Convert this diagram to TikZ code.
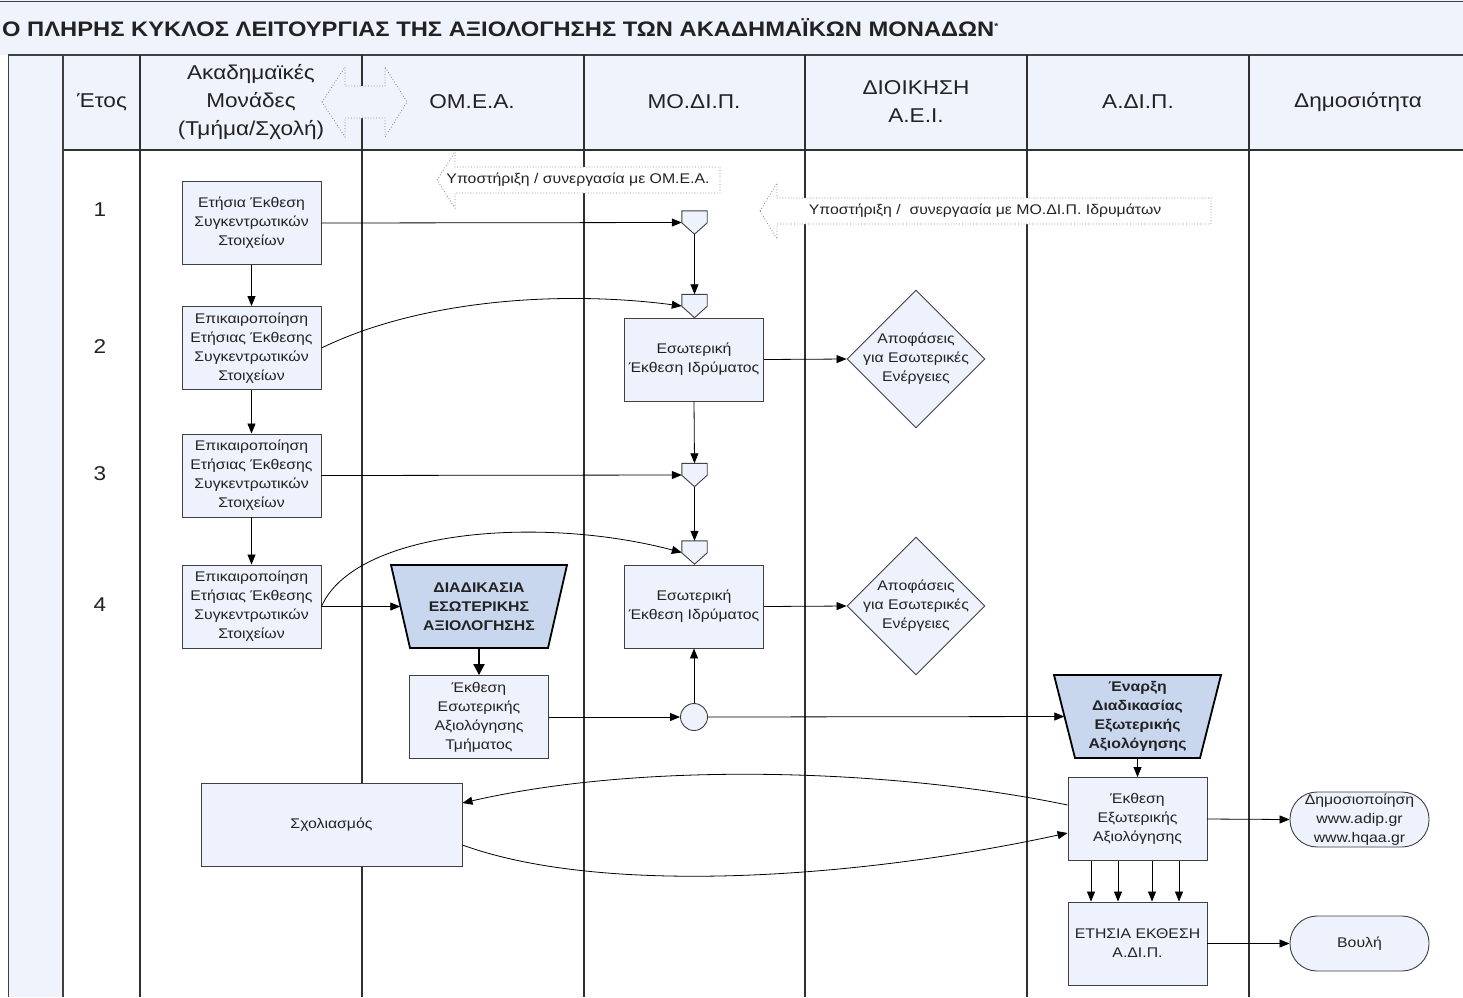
\documentclass[tikz,border=0pt]{standalone}
\usepackage{fontspec}
\setmainfont{Liberation Sans}[FakeStretch=1.13]
\usetikzlibrary{arrows.meta,shapes.geometric,calc}
\definecolor{boxfill}{HTML}{EDF2FC}
\definecolor{hdrfill}{HTML}{EEF3FC}
\definecolor{trapfill}{HTML}{C8D6EE}
\definecolor{edge}{HTML}{404040}
\definecolor{lane}{HTML}{303030}
\definecolor{txt}{HTML}{222222}
\begin{document}
\begin{tikzpicture}[x=1pt,y=-1pt,
  every node/.style={text=txt},
  box/.style={draw=edge, fill=boxfill, line width=0.9pt, minimum width=139pt, minimum height=83pt, align=center, inner sep=1pt, font=\fontsize{14}{19}\selectfont},
  diam/.style={diamond, draw=edge, fill=boxfill, line width=0.9pt, minimum width=138pt, minimum height=138pt, inner sep=0pt},
  dtext/.style={align=center, inner sep=0pt, font=\fontsize{14}{19}\selectfont},
  oval/.style={draw=edge, fill=boxfill, line width=0.9pt, rounded corners=27pt, minimum width=139pt, minimum height=55pt, inner sep=0pt, align=center, font=\fontsize{14}{19}\selectfont},
  mrgnode/.style={minimum width=25pt, minimum height=23pt, inner sep=0pt},
  mrgshape/.style={draw=edge, fill=boxfill, line width=0.9pt},
  trapshape/.style={draw=black, fill=trapfill, line width=1.8pt},
  traptext/.style={align=center, inner sep=0pt, font=\bfseries\fontsize{14}{19}\selectfont},
  hdr/.style={align=center, font=\fontsize{20}{28}\selectfont},
  yr/.style={font=\fontsize{20}{24}\selectfont},
  dotarrow/.style={draw=gray, dotted, line width=0.8pt, fill=white},
  arrtext/.style={font=\fontsize{14}{17}\selectfont},
  conn/.style={draw=black, line width=0.8pt, -{Triangle[length=10pt,width=8pt]}},
  thickconn/.style={draw=black, line width=2pt, -{Triangle[length=11pt,width=11pt]}},
  laneline/.style={draw=lane, line width=1.2pt},
]
\useasboundingbox (0,0) rectangle (1463,997);
% ---------- backgrounds ----------
\fill[hdrfill] (0,0) rectangle (1463,55);
\fill[hdrfill] (63,55) rectangle (1463,150);
\fill[hdrfill] (8,55) rectangle (63,997);
\draw[edge, line width=0.8pt] (0,1.5) -- (1463,1.5);
\draw[edge, line width=2pt] (8,55) -- (1463,55);
\draw[laneline] (63,150) -- (1463,150);
\draw[edge, line width=1pt] (8,55) -- (8,997);
\draw[edge, line width=2pt] (63,55) -- (63,997);
\foreach \x in {140,362,584,805,1027,1249} {\draw[laneline] (\x,55) -- (\x,997);}
% ---------- title and header ----------
\node[anchor=west, inner sep=0pt, font=\bfseries\fontsize{21}{25}\selectfont] (title) at (2,28) {Ο ΠΛΗΡΗΣ ΚΥΚΛΟΣ ΛΕΙΤΟΥΡΓΙΑΣ ΤΗΣ ΑΞΙΟΛΟΓΗΣΗΣ ΤΩΝ ΑΚΑΔΗΜΑΪΚΩΝ ΜΟΝΑΔΩΝ\textsuperscript{\fontsize{9}{9}\selectfont *}};
\draw[dotarrow, fill=hdrfill] (322,102) -- (345,67) -- (345,86) -- (385,86) -- (385,67) -- (407,102) -- (385,137) -- (385,118) -- (345,118) -- (345,137) -- cycle;
\node[hdr] (hy) at (102,102) {Έτος};
\node[hdr] (hak) at (251,102) {Ακαδημαϊκές\\Μονάδες\\(Τμήμα/Σχολή)};
\node[hdr] (hom) at (472,102) {ΟΜ.Ε.Α.};
\node[hdr] (hmo) at (694,102) {ΜΟ.ΔΙ.Π.};
\node[hdr] (hdi) at (916,102) {ΔΙΟΙΚΗΣΗ\\Α.Ε.Ι.};
\node[hdr] (had) at (1138,102) {Α.ΔΙ.Π.};
\node[hdr] (hdm) at (1358,102) {Δημοσιότητα};
% ---------- support arrows ----------
\draw[dotarrow] (437,180) -- (455,152) -- (455,167) -- (720,167) -- (720,193) -- (455,193) -- (455,208) -- cycle;
\node[arrtext] (s1) at (578,180) {Υποστήριξη / συνεργασία με ΟΜ.Ε.Α.};
\draw[dotarrow] (760,211) -- (777,183) -- (777,198) -- (1211,198) -- (1211,224) -- (777,224) -- (777,239) -- cycle;
\node[arrtext] (s2) at (985,211) {Υποστήριξη /\ \ συνεργασία με ΜΟ.ΔΙ.Π. Ιδρυμάτων};
% ---------- years ----------
\node[yr] (y1) at (100,210) {1};
\node[yr] (y2) at (100,347) {2};
\node[yr] (y3) at (100,474) {3};
\node[yr] (y4) at (100,605) {4};
% ---------- boxes ----------
\node[box] (a1) at (251.5,223) {Ετήσια Έκθεση\\Συγκεντρωτικών\\Στοιχείων};
\node[box] (a2) at (251.5,348) {Επικαιροποίηση\\Ετήσιας Έκθεσης\\Συγκεντρωτικών\\Στοιχείων};
\node[box] (a3) at (251.5,475.5) {Επικαιροποίηση\\Ετήσιας Έκθεσης\\Συγκεντρωτικών\\Στοιχείων};
\node[box] (a4) at (251.5,606.5) {Επικαιροποίηση\\Ετήσιας Έκθεσης\\Συγκεντρωτικών\\Στοιχείων};
\node[box] (m1) at (694,359.5) {Εσωτερική\\Έκθεση Ιδρύματος};
\node[box] (m2) at (694,606.5) {Εσωτερική\\Έκθεση Ιδρύματος};
\node[box] (r1) at (479,717) {Έκθεση\\Εσωτερικής\\Αξιολόγησης\\Τμήματος};
\node[box] (e1) at (1137.5,819) {Έκθεση\\Εξωτερικής\\Αξιολόγησης};
\node[box] (e2) at (1137.5,943.5) {ΕΤΗΣΙΑ ΕΚΘΕΣΗ\\Α.ΔΙ.Π.};
\node[box, minimum width=261pt] (sx) at (331.5,824.5) {Σχολιασμός};
\node[diam] (d1) at (916,359) {};
\node[dtext] (d1t) at (d1) {Αποφάσεις\\για Εσωτερικές\\Ενέργειες};
\node[diam] (d2) at (916,606) {};
\node[dtext] (d2t) at (d2) {Αποφάσεις\\για Εσωτερικές\\Ενέργειες};
\node[oval] (pub) at (1359.5,819.5) {Δημοσιοποίηση\\www.adip.gr\\www.hqaa.gr};
\node[oval] (vl) at (1359.5,943.5) {Βουλή};
\node[circle, draw=edge, fill=boxfill, line width=0.9pt, minimum size=27pt, inner sep=0pt] (c) at (694,717) {};
% ---------- merge symbols ----------
\foreach \n/\yy in {p1/222.5, p2/306, p3/475, p4/552.5} {
  \node[mrgnode] (\n) at (694.5,\yy) {};
  \draw[mrgshape] (\n.north west) -- (\n.north east) -- ($(\n.north east)+(0,12)$) -- (\n.south) -- ($(\n.north west)+(0,12)$) -- cycle;
}
% ---------- trapezia ----------
\draw[trapshape] (391,565) -- (567,565) -- (548,648) -- (410,648) -- cycle;
\node[traptext, minimum width=176pt, minimum height=83pt] (t1) at (479,606.5) {ΔΙΑΔΙΚΑΣΙΑ\\ΕΣΩΤΕΡΙΚΗΣ\\ΑΞΙΟΛΟΓΗΣΗΣ};
\draw[trapshape] (1054,675) -- (1221,675) -- (1200,758) -- (1075,758) -- cycle;
\node[traptext, minimum width=167pt, minimum height=83pt] (t2) at (1137.5,716.5) {Έναρξη\\Διαδικασίας\\Εξωτερικής\\Αξιολόγησης};
% ---------- connectors ----------
\draw[conn] (a1) -- (a2);
\draw[conn] (a2) -- (a3);
\draw[conn] (a3) -- (a4);
\draw[conn] (a1.east) -- (p1.west);
\draw[conn] (p1.south) -- (p2.north);
\draw[conn] (a2.east) .. controls (420,300) and (560,290) .. (p2.west);
\draw[conn] (m1.east) -- (d1.west);
\draw[conn] (m1.south) -- (p3.north);
\draw[conn] (a3.east) -- (p3.west);
\draw[conn] (p3.south) -- (p4.north);
\draw[conn] (a4.east) .. controls (355,530) and (540,515) .. (p4.west);
\draw[conn] (a4.east) -- ([xshift=9.5pt]t1.west);
\draw[thickconn] (t1.south) -- (r1.north);
\draw[conn] (r1.east) -- (c.west);
\draw[conn] (c.north) -- (m2.south);
\draw[conn] (m2.east) -- (d2.west);
\draw[conn] (c.east) -- ([xshift=10.5pt]t2.west);
\draw[conn] (t2.south) -- (e1.north);
\draw[conn] ([yshift=14pt]e1.west) .. controls (900,770) and (650,760) .. ([yshift=21.5pt]sx.east);
\draw[conn] ([yshift=-20.5pt]sx.east) .. controls (600,895) and (850,880) .. ([yshift=-14pt]e1.west);
\draw[conn] (e1.east) -- (pub.west);
\foreach \dx in {-46.5,-19.5,14.5,41.5} {\draw[conn] ([xshift=\dx pt]e1.south) -- ([xshift=\dx pt]e2.north);}
\draw[conn] (e2.east) -- (vl.west);
\end{tikzpicture}
\end{document}
